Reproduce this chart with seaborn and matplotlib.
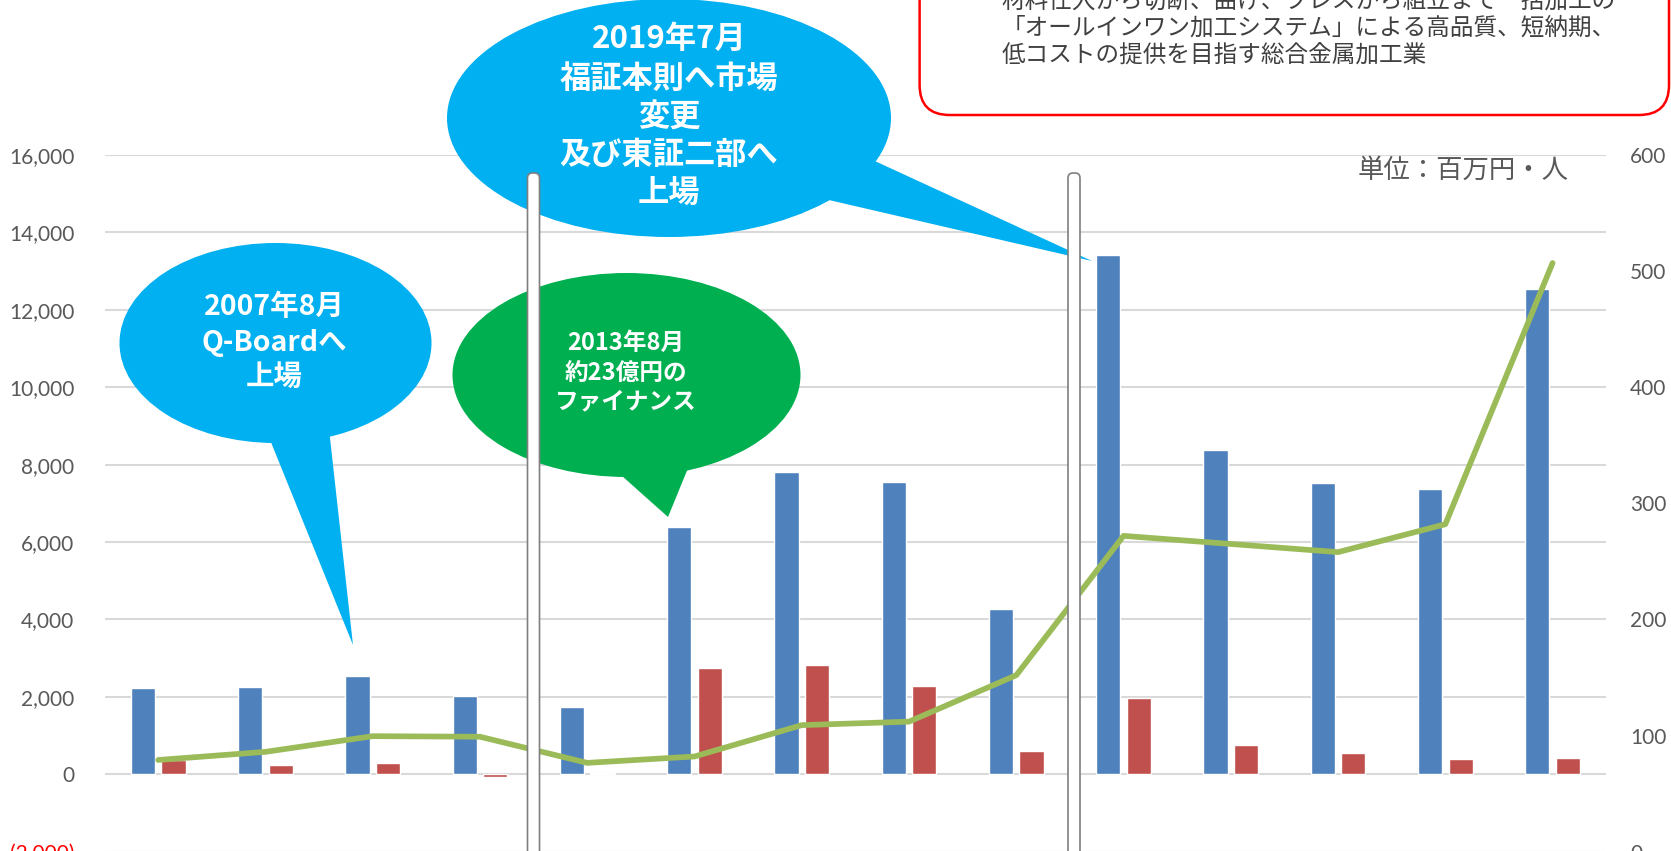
import numpy as np
import pandas as pd
import matplotlib
matplotlib.use("Agg")
import matplotlib.pyplot as plt
from matplotlib.patches import Ellipse, Polygon, FancyBboxPatch
from matplotlib.transforms import Affine2D
import seaborn as sns

# values (x labels are cut off in the source)
periods = ["2006", "2007", "2008", "2009", "2010", "2011", "2012",
           "2013", "2014", "2015", "2016", "2017", "2018", "2019"]
sales = [2230, 2250, 2530, 2020, 1740, 6390, 7820, 7555, 4260, 13420, 8390, 7530, 7375, 12535]
profit = [380, 230, 300, -60, 25, 2740, 2830, 2270, 610, 1960, 765, 540, 395, 420]
employees = [79, 86, 99.5, 99, 76.5, 82, 109, 112, 152, 272, 265, 258, 282, 507]
series_names = ["売上高", "経常利益"]
line_name = "従業員数"
left_ticks = [-2000, 0, 2000, 4000, 6000, 8000, 10000, 12000, 14000, 16000]
right_ticks = [0, 100, 200, 300, 400, 500, 600]

bar_colors = ["#4F81BD", "#C0504D"]
line_color = "#9BBB59"
grey = "#595959"

W, H = 1671, 851
sns.set_style("white")
plt.rcParams["font.family"] = ["Lato", "Noto Sans CJK JP", "DejaVu Sans"]
JP = ["Noto Sans CJK JP", "DejaVu Sans"]

fig = plt.figure(figsize=(W / 100, H / 100), dpi=100)
ax = fig.add_axes([104.6 / W, 1 - 851.7 / H, (1606.2 - 104.6) / W, (851.7 - 155) / H])
ax2 = ax.twinx()

n = len(periods)
df = pd.DataFrame({
    "period": periods * 2,
    "series": [series_names[0]] * n + [series_names[1]] * n,
    "value": sales + profit,
})
sns.barplot(data=df, x="period", y="value", hue="series", order=periods,
            hue_order=series_names, palette=bar_colors, saturation=1,
            width=0.57, gap=0.21, errorbar=None, legend=False, ax=ax)
sns.lineplot(x=np.arange(n), y=employees, ax=ax2, color=line_color,
             linewidth=4.1, solid_capstyle="round", solid_joinstyle="round",
             label=line_name, legend=False)

ax.set_xlim(-0.5, n - 0.5)
ax.set_ylim(-2000, 16000)
ax2.set_ylim(0, 600)

# axis formatting
left_labels = [f"({abs(v):,})" if v < 0 else f"{v:,}" for v in left_ticks]
ax.set_yticks(left_ticks)
ax.set_yticklabels(left_labels, fontsize=15, color=grey)
for lab, v in zip(ax.get_yticklabels(), left_ticks):
    if v < 0:
        lab.set_color("#FF0000")
ax.tick_params(axis="y", length=0, pad=21.9)
ax.tick_params(axis="x", length=0, labelbottom=False)
ax2.set_yticks(right_ticks)
ax2.set_yticklabels([str(v) for v in right_ticks], fontsize=15, color=grey)
ax2.tick_params(axis="y", length=0, pad=17.3)
ax.set_xlabel("")
ax.set_ylabel("")
ax2.set_ylabel("")
ax.grid(axis="y", color="#D9D9D9", linewidth=1.5)
ax.grid(axis="x", visible=False)
ax.set_axisbelow(True)
for a in (ax, ax2):
    for s in a.spines.values():
        s.set_visible(False)

# decorations placed in pixel coords (origin top-left)
pix = Affine2D().scale(1 / W, -1 / H).translate(0, 1) + fig.transFigure


def bubble(center, semi, tail, color):
    fig.add_artist(Polygon(tail, closed=True, transform=pix, facecolor=color,
                           edgecolor="none", zorder=3))
    fig.add_artist(Ellipse(center, 2 * semi[0], 2 * semi[1], transform=pix,
                           facecolor=color, edgecolor="none", zorder=3))


def lines(x, ys, texts, size, color="white", weight="bold", ha="center"):
    for y, t in zip(ys, texts):
        fig.text(x, y, t, transform=pix, fontsize=size, color=color,
                 fontweight=weight, ha=ha, va="center", family=JP, zorder=5)


bubble((275.5, 343), (156, 100), [(262, 420), (328, 420), (353, 645)], "#00B0F0")
lines(274.5, [306.7, 343.3, 376.7], ["2007年8月", "Q-Boardへ", "上場"], 20.5)

bubble((626.5, 375), (174, 102), [(598.5, 455), (693.4, 455), (668, 517)], "#00B050")
lines(626, [343, 373, 401.7], ["2013年8月", "約23億円の", "ファイナンス"], 17)

bubble((669, 118), (222, 119), [(850, 149.6), (815, 196.8), (1092, 261)], "#00B0F0")
lines(669, [39, 80, 118, 155, 193],
      ["2019年7月", "福証本則へ市場", "変更", "及び東証二部へ", "上場"], 22.5)

# red description box
fig.add_artist(FancyBboxPatch((919.6, -60), 1669 - 919.6, 175,
                              boxstyle="round,pad=0,rounding_size=30",
                              transform=pix, facecolor="white",
                              edgecolor="#FF0000", linewidth=1.8, zorder=3))
lines(1001.5, [1, 28, 55],
      ["材料仕入から切断、曲げ、プレスから組立まで一括加工の",
       "「オールインワン加工システム」による高品質、短納期、",
       "低コストの提供を目指す総合金属加工業"],
      17, color="#404040", weight="normal", ha="left")

lines(1358, [170], ["単位：百万円・人"], 19, color=grey, weight="normal", ha="left")

# period separators
for x0 in (527.5, 1068):
    fig.add_artist(FancyBboxPatch((x0, 173), 12, 720,
                                  boxstyle="round,pad=0,rounding_size=5",
                                  transform=pix, facecolor="white",
                                  edgecolor="#7F7F7F", linewidth=1.2, zorder=4))

fig.savefig("out.png", dpi=100)
